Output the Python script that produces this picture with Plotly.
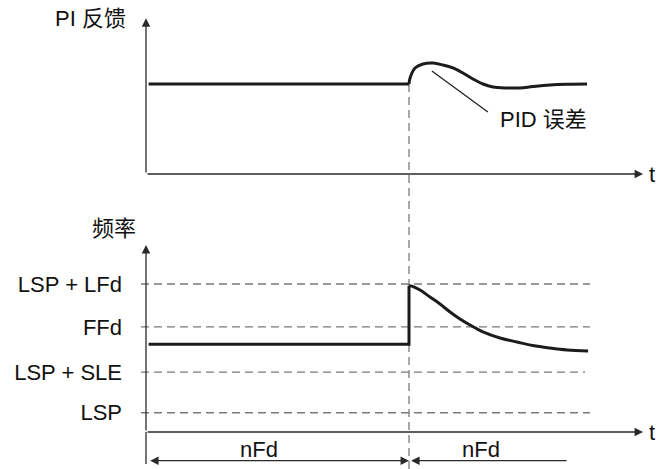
import plotly.graph_objects as go

# ---------------- data ----------------
step_t = 10.0  # moment of the disturbance

# PI feedback (upper panel)
fb_flat_t = [0.1, 10.0]
fb_flat_v = [1.0, 1.0]
fb_curve_t = [10.0, 10.04, 10.23, 10.53, 10.91, 11.29, 11.67, 12.05, 12.43, 12.81,
              13.19, 13.73, 14.22, 14.71, 15.36, 16.01, 16.77]
fb_curve_v = [1.0, 1.067, 1.178, 1.222, 1.233, 1.211, 1.178, 1.122, 1.056, 1.0,
              0.967, 0.956, 0.956, 0.972, 0.989, 0.997, 1.0]

# Frequency (lower panel)
fq_flat_t = [0.1, 10.0, 10.0]
fq_flat_f = [59.3, 59.3, 98.9]
fq_curve_t = [10.0, 10.11, 10.42, 10.80, 11.18, 11.56, 11.94, 12.32, 12.81, 13.46,
              14.11, 14.71, 15.36, 16.01, 16.81]
fq_curve_f = [98.9, 98.6, 95.9, 91.2, 86.5, 81.1, 76.4, 72.3, 67.6, 63.5,
              60.8, 58.4, 56.7, 55.4, 54.7]

# Reference levels (tick labels)
level_labels = ["LSP", "LSP + SLE", "FFd", "LSP + LFd"]
level_values = [13.0, 40.5, 71.0, 100.0]
level_start_t = [-0.19, -0.19, -0.19, -0.19]
level_end_t = [16.88, 16.69, 16.88, 16.88]

# Texts
title_fb = "PI 反馈"
title_fq = "频率"
pid_label = "PID 误差"
nfd_label = "nFd"
t_label = "t"

# ---------------- layout mapping ----------------
W, H = 656, 469
X0_PX, PX_PER_T = 146.0, 26.3           # t = 0 at x = 146 px
V0_PX, PX_PER_V = 174.0, 90.0           # upper panel: v = 0 at y = 174 px
F0_PX, PX_PER_F = 432.0, 1.48           # lower panel: f = 0 at y = 432 px

x_range = [(0 - X0_PX) / PX_PER_T, (W - X0_PX) / PX_PER_T]
v_range = [(V0_PX - H) / PX_PER_V, V0_PX / PX_PER_V]
f_range = [(F0_PX - H) / PX_PER_F, F0_PX / PX_PER_F]

FONT = "Liberation Sans, Arial, Noto Sans CJK SC, sans-serif"
TXT = "#111111"
AX = "#2a2a2a"
CURVE = "#1c1c1c"
DASH = "#7a7a7a"
FS = 22

# axis extents
t_axis_end = 18.9
v_axis_top = 1.73
f_axis_top = 126.4
f_axis_bottom = -21.6
dim_f = -19.4
dim_end_t = 16.05

fig = go.Figure()

# dashed reference levels
for lv, t0, t1 in zip(level_values, level_start_t, level_end_t):
    fig.add_trace(go.Scatter(x=[t0, t1], y=[lv, lv], yaxis="y2", mode="lines",
                             line=dict(color=DASH, width=1.3, dash="8px,5px"),
                             hoverinfo="skip", showlegend=False))

# vertical dashed line at step (spans both panels)
fig.add_trace(go.Scatter(x=[step_t, step_t], y=[fb_flat_v[-1], v_range[0]], mode="lines",
                         line=dict(color=DASH, width=1.3, dash="8px,5px"),
                         hoverinfo="skip", showlegend=False))

# feedback curve
fig.add_trace(go.Scatter(x=fb_flat_t, y=fb_flat_v, mode="lines",
                         line=dict(color=CURVE, width=3), hoverinfo="skip", showlegend=False))
fig.add_trace(go.Scatter(x=fb_curve_t, y=fb_curve_v, mode="lines",
                         line=dict(color=CURVE, width=3, shape="spline", smoothing=1.0),
                         hoverinfo="skip", showlegend=False))

# frequency curve
fig.add_trace(go.Scatter(x=fq_flat_t, y=fq_flat_f, yaxis="y2", mode="lines",
                         line=dict(color=CURVE, width=3), hoverinfo="skip", showlegend=False))
fig.add_trace(go.Scatter(x=fq_curve_t, y=fq_curve_f, yaxis="y2", mode="lines",
                         line=dict(color=CURVE, width=3, shape="spline", smoothing=1.0),
                         hoverinfo="skip", showlegend=False))

# leader line for PID error label
fig.add_trace(go.Scatter(x=[10.87, 13.0], y=[1.144, 0.689], mode="lines",
                         line=dict(color=CURVE, width=1.2), hoverinfo="skip", showlegend=False))

# lower y axis extends below the time axis
fig.add_trace(go.Scatter(x=[0, 0], y=[f_axis_bottom, 0], yaxis="y2", mode="lines",
                         line=dict(color=AX, width=1.3), hoverinfo="skip", showlegend=False))

annotations = []

def arrow(x, y, ax, ay, yref, both=False):
    d = dict(x=x, y=y, ax=ax, ay=ay, xref="x", yref=yref, axref="x", ayref=yref,
             text="", showarrow=True, arrowhead=2, arrowsize=1.3, arrowwidth=1.3,
             arrowcolor=AX, standoff=0, startstandoff=0)
    if both:
        d.update(arrowside="end+start", startarrowhead=2, startarrowsize=1.3)
    return d

# axes with arrows
annotations.append(arrow(0, v_axis_top, 0, 0, "y"))
annotations.append(arrow(t_axis_end, 0, 0, 0, "y"))
annotations.append(arrow(0, f_axis_top, 0, 0, "y2"))
annotations.append(arrow(t_axis_end, 0, 0, 0, "y2"))
# dimension arrows
annotations.append(arrow(step_t, dim_f, 0.1, dim_f, "y2", both=True))
annotations.append(arrow(step_t + 0.08, dim_f, dim_end_t, dim_f, "y2"))

def label(txt, x, y, yref, xanchor="center"):
    return dict(x=x, y=y, xref="x", yref=yref, text=txt, showarrow=False,
                xanchor=xanchor, yanchor="middle", font=dict(family=FONT, size=FS, color=TXT))

annotations.append(label(title_fb, -0.68, 1.733, "y", "right"))
annotations.append(label(title_fq, -0.3, 137.2, "y2", "right"))
annotations.append(label(pid_label, 13.38, 0.606, "y", "left"))
annotations.append(label(t_label, 19.05, 0, "y", "left"))
annotations.append(label(t_label, 19.05, 0, "y2", "left"))
annotations.append(label(nfd_label, 4.28, -11.5, "y2"))
annotations.append(label(nfd_label, 12.74, -11.5, "y2"))

fig.update_layout(
    width=W, height=H,
    margin=dict(l=0, r=0, t=0, b=0),
    paper_bgcolor="white", plot_bgcolor="white",
    xaxis=dict(domain=[0, 1], range=x_range, visible=False, fixedrange=True),
    yaxis=dict(domain=[0, 1], range=v_range, visible=False, fixedrange=True),
    yaxis2=dict(overlaying="y", anchor="free", position=X0_PX / W, side="left",
                range=f_range, tickvals=level_values, ticktext=level_labels,
                showgrid=False, zeroline=False, showline=False, ticks="",
                ticklabelstandoff=24, automargin=False,
                tickfont=dict(family=FONT, size=FS, color=TXT), fixedrange=True),
    annotations=annotations,
    showlegend=False,
)

fig.write_html("out.html", config={"displayModeBar": False},
               post_script="document.body.style.margin='0';document.body.style.padding='0';")
